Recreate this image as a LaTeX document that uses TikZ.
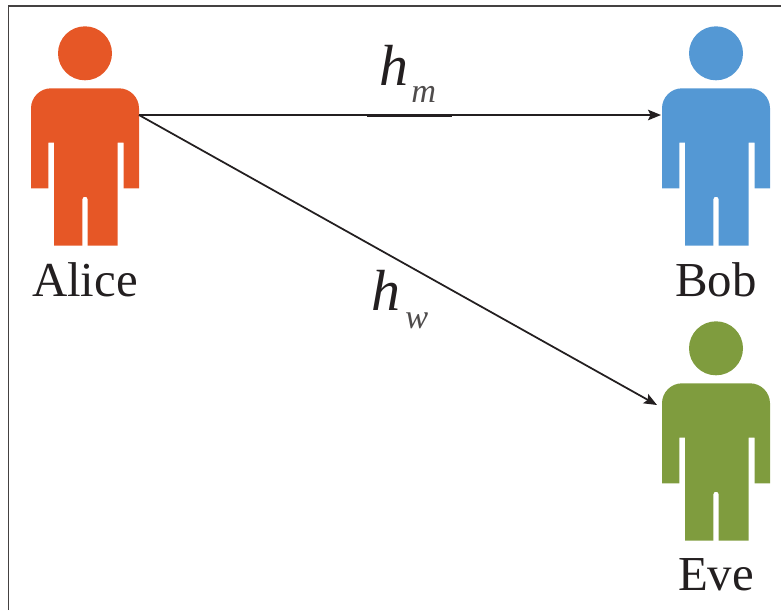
\documentclass[tikz,border=0pt]{standalone}
\usepackage{fontspec}
\setmainfont{Liberation Serif}
\usetikzlibrary{arrows.meta}
\definecolor{aliceorange}{RGB}{230,87,38}
\definecolor{bobblue}{RGB}{84,152,212}
\definecolor{evegreen}{RGB}{127,156,62}
\definecolor{inkblack}{RGB}{35,31,32}
\tikzset{
    namelabel/.style = {anchor=base, inner sep=0pt, text=inkblack, font=\fontsize{27.8}{30}\selectfont},
    chanlabel/.style = {anchor=base west, inner sep=0pt, text=inkblack, font=\fontsize{33}{36}\selectfont\itshape},
    sublabel/.style = {anchor=base west, inner sep=0pt, text=inkblack!80, font=\fontsize{19.5}{20}\selectfont\itshape},
    channel/.style = {draw=inkblack, line width=1pt, -{Stealth[length=0.26cm,width=0.21cm,inset=0.05cm]}},
}
% one figure, measured from the centre of the head
\newcommand{\drawperson}[4]{%
    \fill[#3] (0,0) circle (27);% head
    \fill[#3] (-54,135) -- (-54,55) .. controls (-54,44) and (-45,35) .. (-34,35)
        -- (34,35) .. controls (45,35) and (54,44) .. (54,55) -- (54,135)
        -- (38.7,135) -- (38.7,89.4) -- (32.7,89.4) -- (32.7,192.4) -- (2.7,192.4)
        -- (2.7,146) .. controls (2.7,142.5) and (-2.7,142.5) .. (-2.7,146)
        -- (-2.7,192.4) -- (-31,192.4) -- (-31,89.4) -- (-36.7,89.4) -- (-36.7,135) -- cycle;% body
    \node[namelabel] (#1) at (0,#2) {#4};
}
\begin{document}
\begin{tikzpicture}[x=0.02cm, y=-0.02cm]
    \useasboundingbox (0,0) rectangle (781,610);
    \draw[line width=1pt, draw=inkblack!85] (8.5,610) -- (8.5,6.3) -- (781,6.3);% frame, left and top only
    \begin{scope}[shift={(85,53.3)}]
        \drawperson{alice}{242.7}{aliceorange}{Alice}
    \end{scope}
    \begin{scope}[shift={(716,53.3)}]
        \drawperson{bob}{242.7}{bobblue}{Bob}
    \end{scope}
    \begin{scope}[shift={(716,348.3)}]
        \drawperson{eve}{241.7}{evegreen}{Eve}
    \end{scope}
    % ends of the connectors
    \coordinate (aliceport) at (139,115);
    \coordinate (bobport) at (661,115);
    \coordinate (eveport) at (657,405);
    \coordinate (barstart) at (367,115.5);
    \coordinate (barend) at (452,115.5);
    \draw[channel] (aliceport) -- (bobport);
    \draw[channel] (aliceport) -- (eveport);
    \draw[line width=1.5pt, inkblack] (barstart) -- (barend);% heavier piece under the label
    \node[chanlabel] (hm) at (379,85) {h};
    \node[sublabel] (hmsub) at (411,102) {m};
    \node[chanlabel] (hw) at (371,310) {h};
    \node[sublabel] (hwsub) at (405,328) {w};
\end{tikzpicture}
\end{document}
